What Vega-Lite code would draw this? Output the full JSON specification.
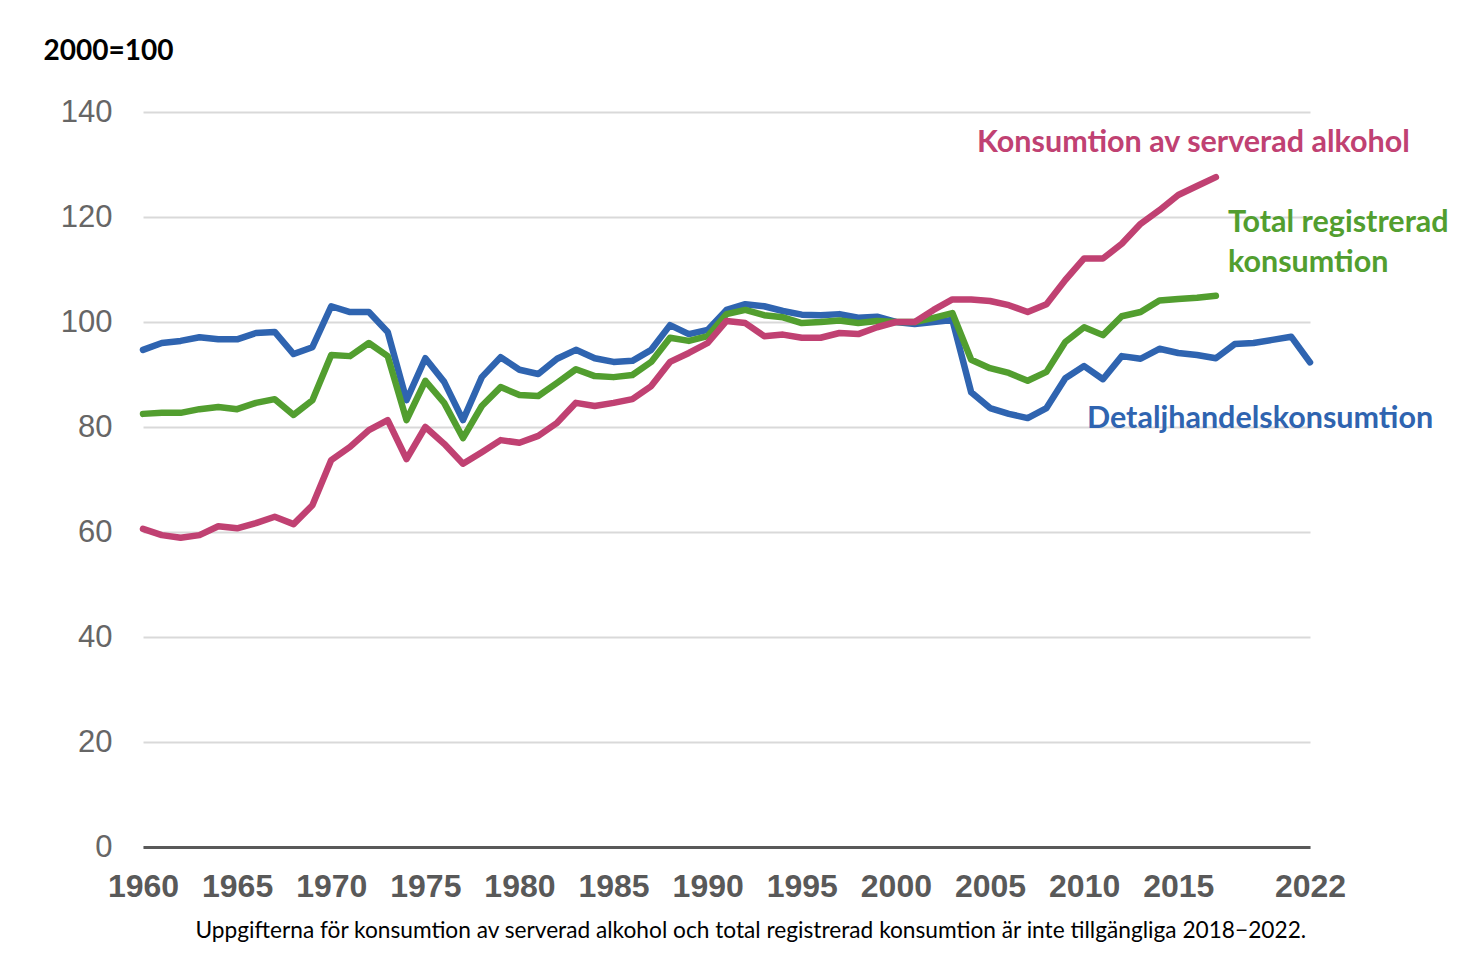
{
  "$schema": "https://vega.github.io/schema/vega-lite/v6.json",
  "width": 1167,
  "height": 735,
  "autosize": {"type": "none"},
  "padding": {"left": 143, "top": 112, "right": 152, "bottom": 116},
  "background": "white",
  "config": {"view": {"stroke": null}},
  "datasets": {
    "lines": [
      {"year":1960,"serie":"Detaljhandelskonsumtion","value":94.7},
      {"year":1961,"serie":"Detaljhandelskonsumtion","value":96.0},
      {"year":1962,"serie":"Detaljhandelskonsumtion","value":96.4},
      {"year":1963,"serie":"Detaljhandelskonsumtion","value":97.1},
      {"year":1964,"serie":"Detaljhandelskonsumtion","value":96.7},
      {"year":1965,"serie":"Detaljhandelskonsumtion","value":96.7},
      {"year":1966,"serie":"Detaljhandelskonsumtion","value":97.9},
      {"year":1967,"serie":"Detaljhandelskonsumtion","value":98.1},
      {"year":1968,"serie":"Detaljhandelskonsumtion","value":93.9},
      {"year":1969,"serie":"Detaljhandelskonsumtion","value":95.2},
      {"year":1970,"serie":"Detaljhandelskonsumtion","value":103.0},
      {"year":1971,"serie":"Detaljhandelskonsumtion","value":101.9},
      {"year":1972,"serie":"Detaljhandelskonsumtion","value":101.9},
      {"year":1973,"serie":"Detaljhandelskonsumtion","value":98.1},
      {"year":1974,"serie":"Detaljhandelskonsumtion","value":85.1},
      {"year":1975,"serie":"Detaljhandelskonsumtion","value":93.1},
      {"year":1976,"serie":"Detaljhandelskonsumtion","value":88.6},
      {"year":1977,"serie":"Detaljhandelskonsumtion","value":81.3},
      {"year":1978,"serie":"Detaljhandelskonsumtion","value":89.5},
      {"year":1979,"serie":"Detaljhandelskonsumtion","value":93.3},
      {"year":1980,"serie":"Detaljhandelskonsumtion","value":90.9},
      {"year":1981,"serie":"Detaljhandelskonsumtion","value":90.1},
      {"year":1982,"serie":"Detaljhandelskonsumtion","value":93.0},
      {"year":1983,"serie":"Detaljhandelskonsumtion","value":94.7},
      {"year":1984,"serie":"Detaljhandelskonsumtion","value":93.1},
      {"year":1985,"serie":"Detaljhandelskonsumtion","value":92.4},
      {"year":1986,"serie":"Detaljhandelskonsumtion","value":92.6},
      {"year":1987,"serie":"Detaljhandelskonsumtion","value":94.7},
      {"year":1988,"serie":"Detaljhandelskonsumtion","value":99.4},
      {"year":1989,"serie":"Detaljhandelskonsumtion","value":97.7},
      {"year":1990,"serie":"Detaljhandelskonsumtion","value":98.5},
      {"year":1991,"serie":"Detaljhandelskonsumtion","value":102.3},
      {"year":1992,"serie":"Detaljhandelskonsumtion","value":103.4},
      {"year":1993,"serie":"Detaljhandelskonsumtion","value":103.0},
      {"year":1994,"serie":"Detaljhandelskonsumtion","value":102.1},
      {"year":1995,"serie":"Detaljhandelskonsumtion","value":101.4},
      {"year":1996,"serie":"Detaljhandelskonsumtion","value":101.3},
      {"year":1997,"serie":"Detaljhandelskonsumtion","value":101.5},
      {"year":1998,"serie":"Detaljhandelskonsumtion","value":100.8},
      {"year":1999,"serie":"Detaljhandelskonsumtion","value":101.0},
      {"year":2000,"serie":"Detaljhandelskonsumtion","value":100.0},
      {"year":2001,"serie":"Detaljhandelskonsumtion","value":99.6},
      {"year":2002,"serie":"Detaljhandelskonsumtion","value":100.0},
      {"year":2003,"serie":"Detaljhandelskonsumtion","value":100.4},
      {"year":2004,"serie":"Detaljhandelskonsumtion","value":86.6},
      {"year":2005,"serie":"Detaljhandelskonsumtion","value":83.6},
      {"year":2006,"serie":"Detaljhandelskonsumtion","value":82.5},
      {"year":2007,"serie":"Detaljhandelskonsumtion","value":81.7},
      {"year":2008,"serie":"Detaljhandelskonsumtion","value":83.6},
      {"year":2009,"serie":"Detaljhandelskonsumtion","value":89.3},
      {"year":2010,"serie":"Detaljhandelskonsumtion","value":91.6},
      {"year":2011,"serie":"Detaljhandelskonsumtion","value":89.1},
      {"year":2012,"serie":"Detaljhandelskonsumtion","value":93.5},
      {"year":2013,"serie":"Detaljhandelskonsumtion","value":93.0},
      {"year":2014,"serie":"Detaljhandelskonsumtion","value":94.9},
      {"year":2015,"serie":"Detaljhandelskonsumtion","value":94.1},
      {"year":2016,"serie":"Detaljhandelskonsumtion","value":93.7},
      {"year":2017,"serie":"Detaljhandelskonsumtion","value":93.1},
      {"year":2018,"serie":"Detaljhandelskonsumtion","value":95.8},
      {"year":2019,"serie":"Detaljhandelskonsumtion","value":96.0},
      {"year":2020,"serie":"Detaljhandelskonsumtion","value":96.6},
      {"year":2021,"serie":"Detaljhandelskonsumtion","value":97.2},
      {"year":2022,"serie":"Detaljhandelskonsumtion","value":92.3},
      {"year":1960,"serie":"Total registrerad konsumtion","value":82.5},
      {"year":1961,"serie":"Total registrerad konsumtion","value":82.7},
      {"year":1962,"serie":"Total registrerad konsumtion","value":82.7},
      {"year":1963,"serie":"Total registrerad konsumtion","value":83.4},
      {"year":1964,"serie":"Total registrerad konsumtion","value":83.8},
      {"year":1965,"serie":"Total registrerad konsumtion","value":83.4},
      {"year":1966,"serie":"Total registrerad konsumtion","value":84.6},
      {"year":1967,"serie":"Total registrerad konsumtion","value":85.3},
      {"year":1968,"serie":"Total registrerad konsumtion","value":82.3},
      {"year":1969,"serie":"Total registrerad konsumtion","value":85.1},
      {"year":1970,"serie":"Total registrerad konsumtion","value":93.7},
      {"year":1971,"serie":"Total registrerad konsumtion","value":93.5},
      {"year":1972,"serie":"Total registrerad konsumtion","value":96.0},
      {"year":1973,"serie":"Total registrerad konsumtion","value":93.5},
      {"year":1974,"serie":"Total registrerad konsumtion","value":81.3},
      {"year":1975,"serie":"Total registrerad konsumtion","value":88.8},
      {"year":1976,"serie":"Total registrerad konsumtion","value":84.6},
      {"year":1977,"serie":"Total registrerad konsumtion","value":77.9},
      {"year":1978,"serie":"Total registrerad konsumtion","value":84.0},
      {"year":1979,"serie":"Total registrerad konsumtion","value":87.6},
      {"year":1980,"serie":"Total registrerad konsumtion","value":86.1},
      {"year":1981,"serie":"Total registrerad konsumtion","value":85.9},
      {"year":1982,"serie":"Total registrerad konsumtion","value":88.4},
      {"year":1983,"serie":"Total registrerad konsumtion","value":91.0},
      {"year":1984,"serie":"Total registrerad konsumtion","value":89.7},
      {"year":1985,"serie":"Total registrerad konsumtion","value":89.5},
      {"year":1986,"serie":"Total registrerad konsumtion","value":89.9},
      {"year":1987,"serie":"Total registrerad konsumtion","value":92.4},
      {"year":1988,"serie":"Total registrerad konsumtion","value":97.0},
      {"year":1989,"serie":"Total registrerad konsumtion","value":96.4},
      {"year":1990,"serie":"Total registrerad konsumtion","value":97.3},
      {"year":1991,"serie":"Total registrerad konsumtion","value":101.5},
      {"year":1992,"serie":"Total registrerad konsumtion","value":102.3},
      {"year":1993,"serie":"Total registrerad konsumtion","value":101.3},
      {"year":1994,"serie":"Total registrerad konsumtion","value":100.9},
      {"year":1995,"serie":"Total registrerad konsumtion","value":99.8},
      {"year":1996,"serie":"Total registrerad konsumtion","value":100.0},
      {"year":1997,"serie":"Total registrerad konsumtion","value":100.3},
      {"year":1998,"serie":"Total registrerad konsumtion","value":99.8},
      {"year":1999,"serie":"Total registrerad konsumtion","value":100.2},
      {"year":2000,"serie":"Total registrerad konsumtion","value":100.0},
      {"year":2001,"serie":"Total registrerad konsumtion","value":100.0},
      {"year":2002,"serie":"Total registrerad konsumtion","value":100.8},
      {"year":2003,"serie":"Total registrerad konsumtion","value":101.7},
      {"year":2004,"serie":"Total registrerad konsumtion","value":92.8},
      {"year":2005,"serie":"Total registrerad konsumtion","value":91.2},
      {"year":2006,"serie":"Total registrerad konsumtion","value":90.3},
      {"year":2007,"serie":"Total registrerad konsumtion","value":88.8},
      {"year":2008,"serie":"Total registrerad konsumtion","value":90.5},
      {"year":2009,"serie":"Total registrerad konsumtion","value":96.2},
      {"year":2010,"serie":"Total registrerad konsumtion","value":99.0},
      {"year":2011,"serie":"Total registrerad konsumtion","value":97.5},
      {"year":2012,"serie":"Total registrerad konsumtion","value":101.1},
      {"year":2013,"serie":"Total registrerad konsumtion","value":101.9},
      {"year":2014,"serie":"Total registrerad konsumtion","value":104.1},
      {"year":2015,"serie":"Total registrerad konsumtion","value":104.4},
      {"year":2016,"serie":"Total registrerad konsumtion","value":104.6},
      {"year":2017,"serie":"Total registrerad konsumtion","value":105.0},
      {"year":1960,"serie":"Konsumtion av serverad alkohol","value":60.6},
      {"year":1961,"serie":"Konsumtion av serverad alkohol","value":59.4},
      {"year":1962,"serie":"Konsumtion av serverad alkohol","value":58.9},
      {"year":1963,"serie":"Konsumtion av serverad alkohol","value":59.4},
      {"year":1964,"serie":"Konsumtion av serverad alkohol","value":61.1},
      {"year":1965,"serie":"Konsumtion av serverad alkohol","value":60.7},
      {"year":1966,"serie":"Konsumtion av serverad alkohol","value":61.7},
      {"year":1967,"serie":"Konsumtion av serverad alkohol","value":62.9},
      {"year":1968,"serie":"Konsumtion av serverad alkohol","value":61.5},
      {"year":1969,"serie":"Konsumtion av serverad alkohol","value":65.1},
      {"year":1970,"serie":"Konsumtion av serverad alkohol","value":73.7},
      {"year":1971,"serie":"Konsumtion av serverad alkohol","value":76.2},
      {"year":1972,"serie":"Konsumtion av serverad alkohol","value":79.4},
      {"year":1973,"serie":"Konsumtion av serverad alkohol","value":81.3},
      {"year":1974,"serie":"Konsumtion av serverad alkohol","value":73.9},
      {"year":1975,"serie":"Konsumtion av serverad alkohol","value":80.0},
      {"year":1976,"serie":"Konsumtion av serverad alkohol","value":76.8},
      {"year":1977,"serie":"Konsumtion av serverad alkohol","value":73.0},
      {"year":1978,"serie":"Konsumtion av serverad alkohol","value":75.2},
      {"year":1979,"serie":"Konsumtion av serverad alkohol","value":77.5},
      {"year":1980,"serie":"Konsumtion av serverad alkohol","value":77.0},
      {"year":1981,"serie":"Konsumtion av serverad alkohol","value":78.3},
      {"year":1982,"serie":"Konsumtion av serverad alkohol","value":80.8},
      {"year":1983,"serie":"Konsumtion av serverad alkohol","value":84.6},
      {"year":1984,"serie":"Konsumtion av serverad alkohol","value":84.0},
      {"year":1985,"serie":"Konsumtion av serverad alkohol","value":84.6},
      {"year":1986,"serie":"Konsumtion av serverad alkohol","value":85.3},
      {"year":1987,"serie":"Konsumtion av serverad alkohol","value":87.8},
      {"year":1988,"serie":"Konsumtion av serverad alkohol","value":92.4},
      {"year":1989,"serie":"Konsumtion av serverad alkohol","value":94.1},
      {"year":1990,"serie":"Konsumtion av serverad alkohol","value":96.0},
      {"year":1991,"serie":"Konsumtion av serverad alkohol","value":100.2},
      {"year":1992,"serie":"Konsumtion av serverad alkohol","value":99.8},
      {"year":1993,"serie":"Konsumtion av serverad alkohol","value":97.3},
      {"year":1994,"serie":"Konsumtion av serverad alkohol","value":97.6},
      {"year":1995,"serie":"Konsumtion av serverad alkohol","value":97.0},
      {"year":1996,"serie":"Konsumtion av serverad alkohol","value":97.0},
      {"year":1997,"serie":"Konsumtion av serverad alkohol","value":97.9},
      {"year":1998,"serie":"Konsumtion av serverad alkohol","value":97.7},
      {"year":1999,"serie":"Konsumtion av serverad alkohol","value":99.0},
      {"year":2000,"serie":"Konsumtion av serverad alkohol","value":100.0},
      {"year":2001,"serie":"Konsumtion av serverad alkohol","value":100.0},
      {"year":2002,"serie":"Konsumtion av serverad alkohol","value":102.3},
      {"year":2003,"serie":"Konsumtion av serverad alkohol","value":104.3},
      {"year":2004,"serie":"Konsumtion av serverad alkohol","value":104.3},
      {"year":2005,"serie":"Konsumtion av serverad alkohol","value":104.0},
      {"year":2006,"serie":"Konsumtion av serverad alkohol","value":103.2},
      {"year":2007,"serie":"Konsumtion av serverad alkohol","value":101.9},
      {"year":2008,"serie":"Konsumtion av serverad alkohol","value":103.4},
      {"year":2009,"serie":"Konsumtion av serverad alkohol","value":108.0},
      {"year":2010,"serie":"Konsumtion av serverad alkohol","value":112.1},
      {"year":2011,"serie":"Konsumtion av serverad alkohol","value":112.1},
      {"year":2012,"serie":"Konsumtion av serverad alkohol","value":114.9},
      {"year":2013,"serie":"Konsumtion av serverad alkohol","value":118.7},
      {"year":2014,"serie":"Konsumtion av serverad alkohol","value":121.3},
      {"year":2015,"serie":"Konsumtion av serverad alkohol","value":124.2},
      {"year":2016,"serie":"Konsumtion av serverad alkohol","value":125.9},
      {"year":2017,"serie":"Konsumtion av serverad alkohol","value":127.6}
    ],
    "labels": [
      {"year":2004.31,"value":132.4,"serie":"Konsumtion av serverad alkohol","label":"Konsumtion av serverad alkohol"},
      {"year":2017.64,"value":117.14,"serie":"Total registrerad konsumtion","label":"Total registrerad"},
      {"year":2017.64,"value":109.52,"serie":"Total registrerad konsumtion","label":"konsumtion"},
      {"year":2010.15,"value":79.81,"serie":"Detaljhandelskonsumtion","label":"Detaljhandelskonsumtion"}
    ]
  },
  "layer": [
    {
      "data": {"name": "lines"},
      "mark": {"type": "line", "strokeWidth": 6.5, "strokeCap": "round", "strokeJoin": "round"},
      "encoding": {
        "x": {
          "field": "year", "type": "quantitative",
          "scale": {"domain": [1960, 2022], "nice": false, "zero": false},
          "axis": {
            "values": [1960,1965,1970,1975,1980,1985,1990,1995,2000,2005,2010,2015,2022],
            "format": "d",
            "grid": false,
            "ticks": false,
            "domain": true,
            "domainColor": "#595959",
            "domainWidth": 3,
            "labelFont": "Liberation Sans",
            "labelFontSize": 32,
            "labelFontWeight": "bold",
            "labelColor": "#595959",
            "labelPadding": 24,
            "labelBaseline": "top",
            "labelOverlap": false,
            "labelFlush": false,
            "title": "Uppgifterna för konsumtion av serverad alkohol och total registrerad konsumtion är inte tillgängliga 2018\u22122022.",
            "titleFont": "Lato",
            "titleFontSize": 22.7,
            "titleFontWeight": "normal",
            "titleColor": "#000000",
            "titleAlign": "left",
            "titleAnchor": "start",
            "titleBaseline": "alphabetic",
            "titleX": 52,
            "titleY": 90
          }
        },
        "y": {
          "field": "value", "type": "quantitative",
          "scale": {"domain": [0, 140], "nice": false},
          "axis": {
            "values": [0,20,40,60,80,100,120,140],
            "grid": true,
            "gridColor": "#d9d9d9",
            "gridWidth": 2,
            "ticks": false,
            "domain": false,
            "labelFont": "Liberation Sans",
            "labelFontSize": 31,
            "labelColor": "#666666",
            "labelPadding": 31,
            "title": "2000=100",
            "titleFont": "Lato",
            "titleFontSize": 28,
            "titleFontWeight": "bold",
            "titleColor": "#000000",
            "titleAngle": 0,
            "titleAlign": "left",
            "titleAnchor": "start",
            "titleBaseline": "alphabetic",
            "titleX": -100,
            "titleY": -53
          }
        },
        "color": {
          "field": "serie", "type": "nominal",
          "scale": {
            "domain": ["Detaljhandelskonsumtion", "Total registrerad konsumtion", "Konsumtion av serverad alkohol"],
            "range": ["#2f64b0", "#529e2f", "#c04172"]
          },
          "legend": null
        },
        "detail": {"field": "serie"}
      }
    },
    {
      "data": {"name": "labels"},
      "mark": {"type": "text", "align": "left", "baseline": "alphabetic", "font": "Lato", "fontSize": 30.5, "fontWeight": "bold"},
      "encoding": {
        "x": {"field": "year", "type": "quantitative"},
        "y": {"field": "value", "type": "quantitative"},
        "text": {"field": "label"},
        "color": {"field": "serie", "type": "nominal", "legend": null}
      }
    }
  ]
}
